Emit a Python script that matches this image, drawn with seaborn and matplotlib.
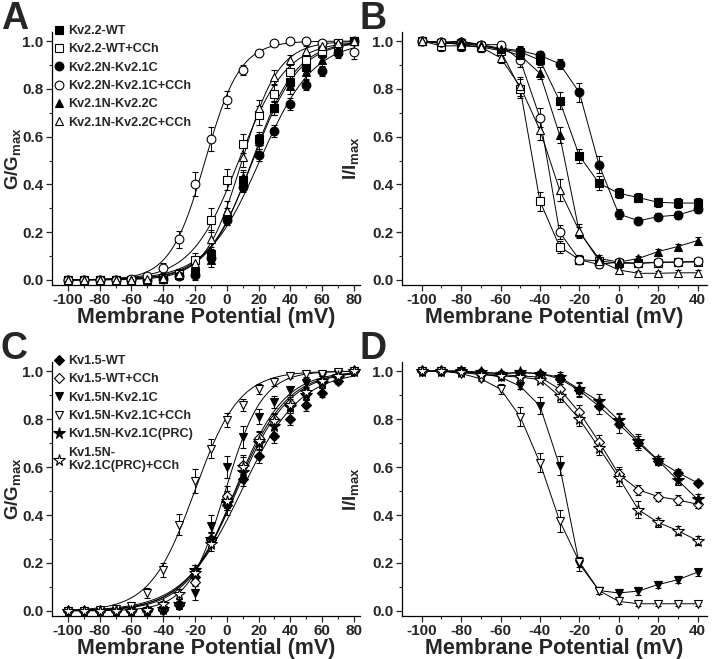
import numpy as np
import matplotlib
matplotlib.use("Agg")
import matplotlib.pyplot as plt
import seaborn as sns

# ---------------- data ----------------
v_act = [-100, -90, -80, -70, -60, -50, -40, -30, -20, -10, 0, 10, 20, 30, 40, 50, 60, 70, 80]
v_inact = [-100, -90, -80, -70, -60, -50, -40, -30, -20, -10, 0, 10, 20, 30, 40]

# panel A : G/Gmax (Kv2.2 family)
a_wt = [0, 0, 0, 0, 0, 0, 0.005, 0.02, 0.035, 0.11, 0.26, 0.42, 0.59, 0.72, 0.83, 0.89, 0.95, 0.98, 1.0]
a_wt_cch = [0, 0, 0, 0, 0, 0.005, 0.01, 0.025, 0.085, 0.25, 0.42, 0.57, 0.69, 0.78, 0.87, 0.92, 0.96, 0.99, 1.0]
a_chim = [0, 0, 0, 0, 0, 0, 0.005, 0.015, 0.02, 0.09, 0.25, 0.39, 0.525, 0.625, 0.735, 0.815, 0.875, 0.95, 1.0]
a_chim_cch = [0, 0, 0, 0, 0.005, 0.015, 0.05, 0.17, 0.40, 0.59, 0.755, 0.88, 0.95, 0.99, 1.0, 1.0, 0.99, 0.98, 0.955]
a_rev = [0, 0, 0, 0, 0, 0, 0.005, 0.02, 0.035, 0.085, 0.27, 0.43, 0.58, 0.72, 0.81, 0.87, 0.92, 0.97, 1.0]
a_rev_cch = [0, 0, 0, 0, 0, 0.005, 0.01, 0.025, 0.07, 0.17, 0.29, 0.515, 0.72, 0.85, 0.92, 0.96, 0.98, 0.99, 1.0]
a_wt_err = [0, 0, 0, 0, 0, 0, 0.005, 0.01, 0.01, 0.03, 0.03, 0.03, 0.03, 0.03, 0.025, 0.025, 0.02, 0.015, 0]
a_wt_cch_err = [0, 0, 0, 0, 0, 0.005, 0.01, 0.02, 0.03, 0.05, 0.045, 0.04, 0.04, 0.035, 0.03, 0.025, 0.02, 0.01, 0]
a_chim_err = [0, 0, 0, 0, 0, 0, 0.005, 0.01, 0.02, 0.02, 0.02, 0.02, 0.025, 0.025, 0.025, 0.02, 0.02, 0.02, 0]
a_chim_cch_err = [0, 0, 0, 0, 0.005, 0.01, 0.02, 0.035, 0.05, 0.05, 0.035, 0.02, 0.01, 0.01, 0.005, 0.005, 0.01, 0.02, 0.03]
a_rev_err = [0, 0, 0, 0, 0, 0, 0.005, 0.01, 0.02, 0.03, 0.03, 0.03, 0.03, 0.03, 0.03, 0.03, 0.03, 0.02, 0]
a_rev_cch_err = [0, 0, 0, 0, 0, 0.005, 0.01, 0.02, 0.03, 0.04, 0.04, 0.04, 0.035, 0.03, 0.02, 0.02, 0.01, 0.01, 0]

# panel B : I/Imax (Kv2.2 family)
b_wt = [1.0, 0.99, 0.99, 0.98, 0.965, 0.955, 0.92, 0.75, 0.52, 0.405, 0.363, 0.345, 0.325, 0.322, 0.322]
b_wt_cch = [1.0, 0.98, 0.98, 0.975, 0.96, 0.80, 0.33, 0.14, 0.085, 0.08, 0.07, 0.07, 0.073, 0.075, 0.075]
b_chim = [1.0, 0.995, 0.995, 0.985, 0.97, 0.96, 0.94, 0.905, 0.785, 0.482, 0.276, 0.248, 0.265, 0.272, 0.296]
b_chim_cch = [1.0, 0.995, 0.99, 0.985, 0.985, 0.92, 0.68, 0.20, 0.085, 0.065, 0.075, 0.07, 0.075, 0.075, 0.078]
b_rev = [1.0, 0.995, 1.0, 0.985, 0.965, 0.94, 0.865, 0.607, 0.20, 0.09, 0.075, 0.09, 0.119, 0.14, 0.165]
b_rev_cch = [1.0, 0.995, 0.985, 0.975, 0.93, 0.81, 0.628, 0.377, 0.205, 0.08, 0.042, 0.028, 0.028, 0.03, 0.03]
b_wt_err = [0, 0.01, 0.01, 0.01, 0.01, 0.02, 0.02, 0.035, 0.03, 0.03, 0.02, 0.02, 0.02, 0.02, 0.02]
b_wt_cch_err = [0, 0.02, 0.02, 0.02, 0.02, 0.04, 0.04, 0.025, 0.02, 0.01, 0.01, 0.01, 0.01, 0.01, 0.01]
b_chim_err = [0, 0.01, 0.01, 0.01, 0.01, 0.02, 0.02, 0.02, 0.04, 0.035, 0.02, 0.015, 0.015, 0.015, 0.015]
b_chim_cch_err = [0, 0.01, 0.01, 0.01, 0.01, 0.03, 0.04, 0.03, 0.02, 0.015, 0.01, 0.01, 0.01, 0.01, 0.01]
b_rev_err = [0, 0.01, 0.01, 0.01, 0.01, 0.02, 0.025, 0.035, 0.02, 0.015, 0.01, 0.01, 0.01, 0.01, 0.015]
b_rev_cch_err = [0, 0.01, 0.02, 0.02, 0.02, 0.04, 0.04, 0.045, 0.03, 0.01, 0.01, 0.01, 0.01, 0.01, 0.01]

# panel C : G/Gmax (Kv1.5 family)
c_wt = [0, 0, 0, 0, 0, 0, 0.005, 0.025, 0.14, 0.295, 0.44, 0.55, 0.645, 0.73, 0.80, 0.86, 0.91, 0.96, 1.0]
c_wt_cch = [0, 0, 0, 0, 0, 0.005, 0.01, 0.03, 0.12, 0.30, 0.48, 0.61, 0.72, 0.80, 0.865, 0.905, 0.955, 0.975, 1.0]
c_chim = [0, 0, 0, 0, 0, 0, 0.005, 0.02, 0.075, 0.355, 0.60, 0.725, 0.81, 0.87, 0.92, 0.95, 0.98, 0.99, 1.0]
c_chim_cch = [0, 0, 0.005, 0.01, 0.02, 0.074, 0.17, 0.36, 0.54, 0.677, 0.795, 0.86, 0.925, 0.955, 0.98, 0.987, 0.99, 0.995, 1.0]
c_prc = [0, 0, 0, 0, 0, 0, 0.01, 0.03, 0.17, 0.30, 0.45, 0.58, 0.70, 0.77, 0.85, 0.90, 0.95, 0.97, 1.0]
c_prc_cch = [0, 0, 0, 0, 0, 0.005, 0.03, 0.07, 0.16, 0.28, 0.46, 0.60, 0.71, 0.79, 0.86, 0.915, 0.96, 0.98, 1.0]
c_wt_err = [0, 0, 0, 0, 0, 0, 0.005, 0.01, 0.03, 0.03, 0.04, 0.03, 0.03, 0.03, 0.025, 0.025, 0.02, 0.015, 0]
c_wt_cch_err = [0, 0, 0, 0, 0, 0.005, 0.01, 0.02, 0.03, 0.03, 0.04, 0.04, 0.03, 0.025, 0.025, 0.02, 0.015, 0.01, 0]
c_chim_err = [0, 0, 0, 0, 0, 0, 0.005, 0.01, 0.03, 0.045, 0.045, 0.045, 0.03, 0.025, 0.02, 0.02, 0.015, 0.01, 0]
c_chim_cch_err = [0, 0, 0.005, 0.01, 0.01, 0.02, 0.03, 0.045, 0.05, 0.04, 0.03, 0.025, 0.02, 0.015, 0.01, 0.01, 0.01, 0.01, 0]
c_prc_err = [0, 0, 0, 0, 0, 0, 0.01, 0.01, 0.02, 0.03, 0.03, 0.03, 0.03, 0.03, 0.025, 0.02, 0.02, 0.015, 0]
c_prc_cch_err = [0, 0, 0, 0, 0, 0.005, 0.01, 0.02, 0.03, 0.03, 0.04, 0.04, 0.035, 0.03, 0.025, 0.02, 0.02, 0.01, 0]

# panel D : I/Imax (Kv1.5 family)
d_wt = [1.0, 1.0, 1.0, 0.995, 0.99, 0.993, 0.99, 0.968, 0.92, 0.853, 0.78, 0.70, 0.627, 0.577, 0.534]
d_wt_cch = [1.0, 1.0, 0.995, 0.99, 0.985, 0.98, 0.975, 0.925, 0.828, 0.705, 0.57, 0.505, 0.477, 0.463, 0.445]
d_chim = [1.0, 1.0, 1.0, 0.99, 0.975, 0.937, 0.855, 0.605, 0.196, 0.085, 0.075, 0.083, 0.11, 0.13, 0.162]
d_chim_cch = [1.0, 1.0, 0.99, 0.968, 0.925, 0.81, 0.618, 0.376, 0.205, 0.085, 0.04, 0.03, 0.03, 0.03, 0.03]
d_prc = [1.0, 1.0, 1.0, 0.995, 0.99, 0.995, 0.99, 0.975, 0.925, 0.874, 0.795, 0.708, 0.628, 0.545, 0.466]
d_prc_cch = [1.0, 1.0, 0.995, 0.985, 0.98, 0.975, 0.965, 0.895, 0.80, 0.68, 0.556, 0.422, 0.369, 0.335, 0.293]
d_wt_err = [0, 0.005, 0.005, 0.01, 0.01, 0.01, 0.01, 0.02, 0.03, 0.03, 0.04, 0.03, 0.02, 0.015, 0.01]
d_wt_cch_err = [0, 0.005, 0.01, 0.01, 0.01, 0.01, 0.01, 0.02, 0.03, 0.03, 0.03, 0.02, 0.02, 0.02, 0.015]
d_chim_err = [0, 0.005, 0.01, 0.01, 0.01, 0.01, 0.035, 0.04, 0.03, 0.015, 0.015, 0.015, 0.015, 0.015, 0.015]
d_chim_cch_err = [0, 0.005, 0.01, 0.01, 0.02, 0.04, 0.04, 0.045, 0.02, 0.015, 0.01, 0.01, 0.01, 0.01, 0.01]
d_prc_err = [0, 0.005, 0.005, 0.01, 0.01, 0.01, 0.01, 0.02, 0.03, 0.03, 0.03, 0.03, 0.02, 0.02, 0.02]
d_prc_cch_err = [0, 0.005, 0.01, 0.01, 0.01, 0.01, 0.01, 0.025, 0.03, 0.03, 0.035, 0.035, 0.02, 0.02, 0.02]

labels_kv22 = ["Kv2.2-WT", "Kv2.2-WT+CCh", "Kv2.2N-Kv2.1C", "Kv2.2N-Kv2.1C+CCh",
               "Kv2.1N-Kv2.2C", "Kv2.1N-Kv2.2C+CCh"]
labels_kv15 = ["Kv1.5-WT", "Kv1.5-WT+CCh", "Kv1.5N-Kv2.1C", "Kv1.5N-Kv2.1C+CCh",
               "Kv1.5N-Kv2.1C(PRC)", "Kv1.5N-\nKv2.1C(PRC)+CCh"]
markers_kv22 = [("s", True), ("s", False), ("o", True), ("o", False), ("^", True), ("^", False)]
markers_kv15 = [("D", True), ("D", False), ("v", True), ("v", False), ("*", True), ("*", False)]

# ---------------- style ----------------
sns.set_style("ticks")
plt.rcParams["font.family"] = ["Liberation Sans", "DejaVu Sans"]
plt.rcParams["font.weight"] = "bold"
plt.rcParams["mathtext.fontset"] = "custom"
plt.rcParams["mathtext.rm"] = "Liberation Sans:bold"
plt.rcParams["mathtext.bf"] = "Liberation Sans:bold"
plt.rcParams["axes.unicode_minus"] = False


def boltzmann_fit(v, g):
    # crude least-squares grid search for V1/2 and slope
    v = np.asarray(v, float)
    g = np.asarray(g, float)
    vh = np.arange(-40, 40, 0.2)[:, None, None]
    k = np.arange(3, 25, 0.2)[None, :, None]
    pred = 1.0 / (1.0 + np.exp((vh - v) / k))
    sse = ((pred - g) ** 2).sum(-1)
    i, j = np.unravel_index(sse.argmin(), sse.shape)
    return vh[i, 0, 0], k[0, j, 0]


def draw_points(ax, v, y, err, marker, filled, label):
    ms = 8.5 if marker == "*" else (5.5 if marker == "D" else 6.3)
    ax.errorbar(v, y, yerr=err, fmt=marker, ms=ms,
                mfc="black" if filled else "white", mec="black", mew=0.8,
                ecolor="black", elinewidth=0.7, capsize=2.5, capthick=0.7,
                label=label, zorder=3)


def style_axes(ax, xlim, xticks, ylabel, label_x):
    ax.set_xlim(*xlim)
    ax.set_ylim(-0.021, 1.038)
    ax.set_xticks(xticks)
    ax.set_xticks(np.arange(xticks[0] + 10, xticks[-1], 20), minor=True)
    ax.set_yticks(np.arange(0, 1.01, 0.2))
    ax.set_yticks(np.arange(0.1, 1.0, 0.2), minor=True)
    ax.set_yticklabels([f"{t:.1f}" for t in np.arange(0, 1.01, 0.2)])
    ax.tick_params(axis="both", which="major", direction="out", length=4, width=0.9,
                   labelsize=11, pad=2)
    ax.tick_params(axis="both", which="minor", direction="out", length=2.5, width=0.8)
    for lab in ax.get_xticklabels() + ax.get_yticklabels():
        lab.set_fontweight("bold")
    sns.despine(ax=ax)
    for s in ("left", "bottom"):
        ax.spines[s].set_linewidth(0.9)
        ax.spines[s].set_color("black")
    ax.set_xlabel("Membrane Potential (mV)", fontsize=15.5, fontweight="bold", labelpad=0)
    ax.set_ylabel(ylabel, fontsize=13.5, fontweight="bold")
    ax.yaxis.set_label_coords(label_x, 0.5)


def activation_panel(ax, series, errs, labels, markers):
    vfine = np.linspace(-100, 80, 300)
    for y in series:
        vh, k = boltzmann_fit(v_act, y)
        sns.lineplot(x=vfine, y=1.0 / (1.0 + np.exp((vh - vfine) / k)), ax=ax,
                     color="black", lw=0.7, zorder=2, legend=False)
    for y, e, (m, f), lab in zip(series, errs, markers, labels):
        draw_points(ax, v_act, y, e, m, f, lab)


def inactivation_panel(ax, series, errs, markers):
    for y in series:
        sns.lineplot(x=v_inact, y=y, ax=ax, color="black", lw=0.7, zorder=2, legend=False)
    for y, e, (m, f) in zip(series, errs, markers):
        draw_points(ax, v_inact, y, e, m, f, None)


W, H = 720, 659
fig = plt.figure(figsize=(W / 100, H / 100), dpi=100)

ax_a = fig.add_axes([52 / W, 1 - 285 / H, 308 / W, 253 / H])
ax_b = fig.add_axes([402 / W, 1 - 285 / H, 305 / W, 253 / H])
ax_c = fig.add_axes([52 / W, 1 - 616 / H, 308 / W, 254 / H])
ax_d = fig.add_axes([402 / W, 1 - 616 / H, 305 / W, 254 / H])

activation_panel(ax_a, [a_wt, a_wt_cch, a_chim, a_chim_cch, a_rev, a_rev_cch],
                 [a_wt_err, a_wt_cch_err, a_chim_err, a_chim_cch_err, a_rev_err, a_rev_cch_err],
                 labels_kv22, markers_kv22)
inactivation_panel(ax_b, [b_wt, b_wt_cch, b_chim, b_chim_cch, b_rev, b_rev_cch],
                   [b_wt_err, b_wt_cch_err, b_chim_err, b_chim_cch_err, b_rev_err, b_rev_cch_err],
                   markers_kv22)
activation_panel(ax_c, [c_wt, c_wt_cch, c_chim, c_chim_cch, c_prc, c_prc_cch],
                 [c_wt_err, c_wt_cch_err, c_chim_err, c_chim_cch_err, c_prc_err, c_prc_cch_err],
                 labels_kv15, markers_kv15)
inactivation_panel(ax_d, [d_wt, d_wt_cch, d_chim, d_chim_cch, d_prc, d_prc_cch],
                   [d_wt_err, d_wt_cch_err, d_chim_err, d_chim_cch_err, d_prc_err, d_prc_cch_err],
                   markers_kv15)

style_axes(ax_a, (-110, 83.8), list(range(-100, 81, 20)), r"G/G$_{\mathrm{max}}$", -0.09)
style_axes(ax_b, (-110, 44.8), list(range(-100, 41, 20)), r"I/I$_{\mathrm{max}}$", -0.13)
style_axes(ax_c, (-110, 83.8), list(range(-100, 81, 20)), r"G/G$_{\mathrm{max}}$", -0.09)
style_axes(ax_d, (-110, 44.8), list(range(-100, 41, 20)), r"I/I$_{\mathrm{max}}$", -0.13)

for ax, top in ((ax_a, 25), (ax_c, 355)):
    h, l = ax.get_legend_handles_labels()
    h = [x[0] for x in h]
    ax.legend(h, l, loc="upper left", bbox_to_anchor=(54 / W, 1 - top / H),
              bbox_transform=fig.transFigure, frameon=False, borderpad=0,
              borderaxespad=0, handlelength=0.8, handletextpad=0.35,
              labelspacing=0.5, prop={"size": 9.1, "weight": "bold"})

for letter, x, y in (("A", 1, 1), ("B", 359, 1), ("C", 1, 331), ("D", 359, 331)):
    fig.text(x / W, 1 - y / H, letter, fontsize=27, fontweight="bold", va="top", ha="left")

fig.savefig("out.png", dpi=100)
